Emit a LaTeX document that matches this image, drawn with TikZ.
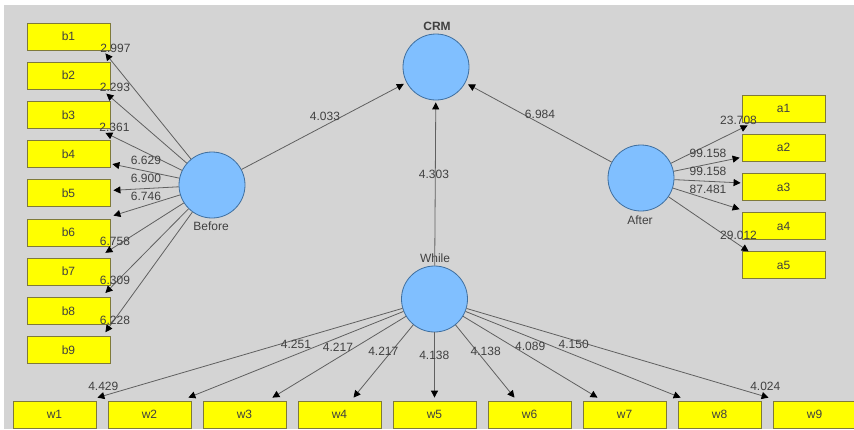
\documentclass[tikz,border=0pt]{standalone}
\usepackage{fontspec}
\setmainfont{Liberation Sans}
\usetikzlibrary{arrows.meta,calc}
\definecolor{bg}{HTML}{D4D4D4}
\definecolor{boxfill}{HTML}{FFFF00}
\definecolor{boxline}{HTML}{7F7A3A}
\definecolor{circfill}{HTML}{80BFFF}
\definecolor{circline}{HTML}{3F6F9F}
\definecolor{lineclr}{HTML}{606060}
\definecolor{txt}{HTML}{404040}
\begin{document}
\begin{tikzpicture}[x=1pt,y=-1pt,
  ind/.style={draw=boxline, fill=boxfill, minimum width=83pt, minimum height=27pt, inner sep=0pt, text=txt, font=\fontsize{12}{13}\selectfont, line width=0.8pt},
  lat/.style={circle, draw=circline, fill=circfill, minimum size=66pt, inner sep=0pt, line width=0.8pt},
  nm/.style={text=txt, font=\fontsize{12}{13}\selectfont, inner sep=0pt},
  val/.style={text=txt, font=\fontsize{12}{13}\selectfont, inner sep=0pt},
  conn/.style={draw=lineclr, line width=0.8pt, -{Triangle[length=7pt,width=7pt,color=black]}},
]
\useasboundingbox (0,0) rectangle (854,429);
\fill[white] (0,0) rectangle (854,429);
\fill[bg] (4,5) rectangle (854,429);

% latent variables
\node[lat] (CRM) at (436,67) {};
\node[lat] (Before) at (212,185) {};
\node[lat] (After) at (641,178) {};
\node[lat] (While) at (434.5,299) {};
\node[nm, font=\fontsize{12}{13}\selectfont\bfseries] (lcrm) at (437,26) {CRM};
\node[nm] (lbefore) at (211,226) {Before};
\node[nm] (lafter) at (640,220) {After};
\node[nm] (lwhile) at (435,258) {While};

% indicator boxes b
\foreach \i in {1,...,9}{
  \node[ind] (b\i) at (68.5,{36.5+39.2*(\i-1)}) {b\i};
}
% indicator boxes a
\foreach \i in {1,...,5}{
  \node[ind] (a\i) at (783.5,{108.5+39.2*(\i-1)}) {a\i};
}
% indicator boxes w
\foreach \i in {1,...,9}{
  \node[ind] (w\i) at ({54.5+95*(\i-1)},414.5) {w\i};
}

% structural paths
\draw[conn, shorten >=3pt] (Before) -- (CRM);
\draw[conn, shorten >=3pt] (After) -- (CRM);
\draw[conn, shorten >=2pt] (While) -- (CRM);
\node[val] (p1) at (325,116) {4.033};
\node[val] (p2) at (540,114) {6.984};
\node[val] (p3) at (434,174) {4.303};

% Before -> b
\draw[conn] (Before) -- ($(b1.south east)+(-5,3)$);
\draw[conn] (Before) -- ($(b2.south east)+(-4,4)$);
\draw[conn] (Before) -- ($(b3.south east)+(-5,4)$);
\draw[conn] (Before) -- ($(b4.east)+(2,10)$);
\draw[conn] (Before) -- ($(b5.east)+(3,-3)$);
\draw[conn] (Before) -- ($(b6.north east)+(3,-3)$);
\draw[conn] (Before) -- ($(b7.north east)+(-5,-5)$);
\draw[conn] (Before) -- ($(b8.north east)+(-5,-4)$);
\draw[conn] (Before) -- ($(b9.north east)+(-5,-4)$);
\node[val] (vb1) at (115.5,48) {2.997};
\node[val] (vb2) at (115,87) {2.293};
\node[val] (vb3) at (114.5,127) {2.361};
\node[val] (vb4) at (146,160) {6.629};
\node[val] (vb5) at (146,178) {6.900};
\node[val] (vb6) at (146,196) {6.746};
\node[val] (vb7) at (115,241.5) {6.758};
\node[val] (vb8) at (115,280) {6.309};
\node[val] (vb9) at (115,320) {6.228};

% After -> a
\draw[conn] (After) -- ($(a1.south west)+(6,3)$);
\draw[conn] (After) -- ($(a2.west)+(-2,10)$);
\draw[conn] (After) -- ($(a3.west)+(-1,-4)$);
\draw[conn] (After) -- ($(a4.north west)+(-2,-3)$);
\draw[conn] (After) -- ($(a5.north west)+(7,0)$);
\node[val] (va1) at (738.5,120.5) {23.708};
\node[val] (va2) at (708,153.3) {99.158};
\node[val] (va3) at (708,171) {99.158};
\node[val] (va4) at (708,189.3) {87.481};
\node[val] (va5) at (738.5,235) {29.012};

% While -> w
\draw[conn] (While) -- ($(w1.north east)+(1,-3)$);
\draw[conn] (While) -- ($(w2.north east)+(-3,-3)$);
\draw[conn] (While) -- ($(w3.north east)+(-14,-3)$);
\draw[conn] (While) -- ($(w4.north)+(14,-3)$);
\draw[conn] (While) -- ($(w5.north)+(0,-3)$);
\draw[conn] (While) -- ($(w6.north)+(-15,-3)$);
\draw[conn] (While) -- ($(w7.north)+(-27,-3)$);
\draw[conn] (While) -- ($(w8.north west)+(3,-3)$);
\draw[conn] (While) -- ($(w9.north west)+(-4,-3)$);
\node[val] (vw1) at (103.3,386.7) {4.429};
\node[val] (vw2) at (296,344.7) {4.251};
\node[val] (vw3) at (338,347) {4.217};
\node[val] (vw4) at (383.3,351.3) {4.217};
\node[val] (vw5) at (434.3,355.3) {4.138};
\node[val] (vw6) at (485.7,351.3) {4.138};
\node[val] (vw7) at (530.2,346.3) {4.089};
\node[val] (vw8) at (573.7,344) {4.150};
\node[val] (vw9) at (765.3,386.3) {4.024};
\end{tikzpicture}
\end{document}
